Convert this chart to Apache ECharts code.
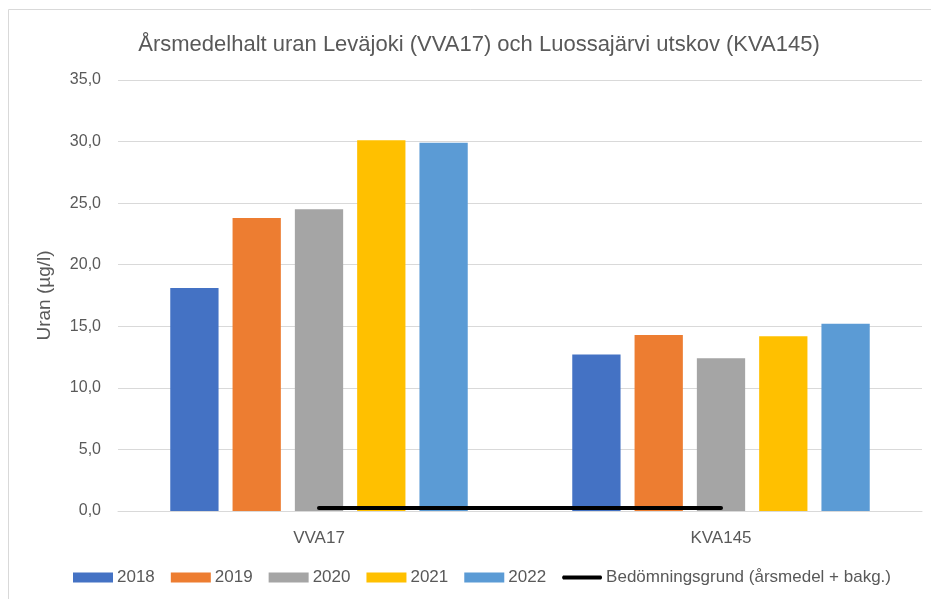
<!DOCTYPE html>
<html>
<head>
<meta charset="utf-8">
<script src="https://cdn.jsdelivr.net/npm/echarts@6/dist/echarts.min.js"></script>
<style>
  html, body { margin: 0; padding: 0; background: #fff; }
  #chart { width: 931px; height: 599px; }
</style>
</head>
<body>
<div id="chart"></div>
<script>
var stations = ['VVA17', 'KVA145']
var years = ['2018', '2019', '2020', '2021', '2022']
var uran2018 = [18.1, 12.7]
var uran2019 = [23.8, 14.3]
var uran2020 = [24.5, 12.4]
var uran2021 = [30.1, 14.2]
var uran2022 = [29.9, 15.2]
var bedomning = [0.25, 0.25]
var lineName = 'Bedömningsgrund (årsmedel + bakg.)'
var yearColors = ['#4472C4', '#ED7D31', '#A5A5A5', '#FFC000', '#5B9BD5']

var font = 'Liberation Sans'
var txt = '#595959'

var chart = echarts.init(document.getElementById('chart'))

var allYears = [uran2018, uran2019, uran2020, uran2021, uran2022]
var series = []
for (var i in years) {
    series.push({
        name: years[i],
        type: 'bar',
        data: allYears[i],
        itemStyle: { color: yearColors[i] },
        barGap: '29%',
        barCategoryGap: '26%'
    })
}
series.push({
    name: lineName,
    type: 'line',
    data: bedomning,
    symbol: 'none',
    lineStyle: { color: '#000', width: 4, cap: 'round' },
    itemStyle: { color: '#000' },
    z: 5
})

var legendData = years.map(function (y) { return { name: y, icon: 'rect' } })
// thin line icon: the zero-area stroke keeps the box 40x10
legendData.push({ name: lineName, icon: 'path://M0,0L0,10M1,3L39,3Q41,5 39,7L1,7Q-1,5 1,3Z' })

var option = {
    animation: false,
    textStyle: { fontFamily: font },
    graphic: [{
        type: 'rect',
        shape: { x: 8.5, y: 9.5, width: 1000, height: 1000 },
        style: { fill: 'none', stroke: '#d9d9d9', lineWidth: 1 },
        silent: true
    }],
    title: {
        text: 'Årsmedelhalt uran Leväjoki (VVA17) och Luossajärvi utskov (KVA145)',
        left: 474,
        textAlign: 'center',
        top: 29,
        textStyle: { fontFamily: font, fontSize: 22, fontWeight: 'normal', color: txt }
    },
    legend: {
        data: legendData,
        left: 68,
        top: 564,
        itemWidth: 40,
        itemHeight: 10,
        itemGap: 16,
        textStyle: { fontFamily: font, fontSize: 17, color: txt, padding: [0, 0, 0, -1] }
    },
    grid: { left: 118, right: 9, top: 80, bottom: 88 },
    xAxis: {
        type: 'category',
        data: stations,
        axisTick: { show: false },
        axisLine: { lineStyle: { color: '#d9d9d9', width: 1 } },
        axisLabel: { color: txt, fontSize: 17, margin: 19, fontFamily: font }
    },
    yAxis: {
        type: 'value',
        min: 0,
        max: 35,
        interval: 5,
        name: 'Uran (µg/l)',
        nameLocation: 'middle',
        nameGap: 64,
        nameTextStyle: { color: txt, fontSize: 19, fontFamily: font },
        axisLine: { show: false },
        axisTick: { show: false },
        splitLine: { lineStyle: { color: '#d9d9d9', width: 1 } },
        axisLabel: {
            color: txt,
            fontSize: 16,
            margin: 17,
            fontFamily: font,
            formatter: function (v) { return v.toFixed(1).replace('.', ',') }
        }
    },
    series: series
}
chart.setOption(option)
</script>
</body>
</html>
